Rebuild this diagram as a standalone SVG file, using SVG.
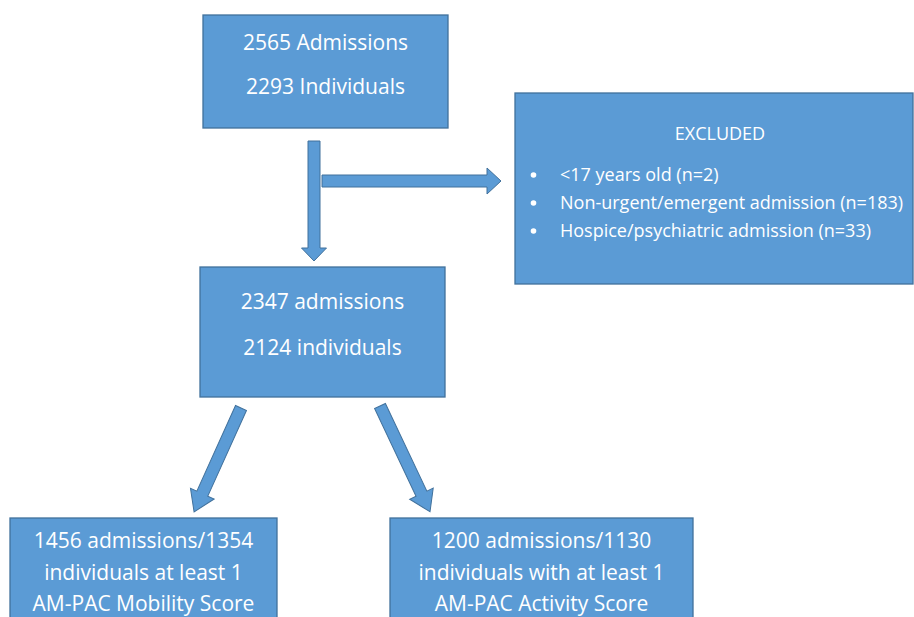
<svg xmlns="http://www.w3.org/2000/svg" width="914" height="617" viewBox="0 0 914 617">
<style>
.box{fill:#5B9BD5;stroke:#41719C;stroke-width:1.3}
.arr{fill:#5B9BD5;stroke:#41719C;stroke-width:1}
text{font-family:"Open Sans","Noto Sans",sans-serif;fill:#FFFFFF}
.t{font-size:21px;text-anchor:middle}
.s{font-size:18px}
.bul{fill:#FFFFFF}
</style>
<rect width="914" height="617" fill="#FFFFFF"/>
<g id="connectors">
<polygon class="arr" transform="translate(314,141) rotate(90)" points="0,-6 107,-6 107,-12.5 120,0 107,12.5 107,6 0,6"/>
<polygon class="arr" transform="translate(322,181)" points="0,-6 165,-6 165,-13 179,0 165,13 165,6 0,6"/>
<polygon class="arr" transform="translate(241,408) rotate(114.3)" points="0,-6 94,-6 94,-13 114,0 94,13 94,6 0,6"/>
<polygon class="arr" transform="translate(380,406) rotate(64.7)" points="0,-6 97,-6 97,-13 117,0 97,13 97,6 0,6"/>
</g>
<g id="n1">
<rect class="box" x="203" y="15" width="245" height="113"/>
<text class="t" x="325.5" y="50">2565 Admissions</text>
<text class="t" x="325.5" y="94">2293 Individuals</text>
</g>
<g id="excluded">
<rect class="box" x="515" y="93" width="398" height="191"/>
<text class="s" x="720" y="140" text-anchor="middle">EXCLUDED</text>
<circle class="bul" cx="533.5" cy="175" r="2.8"/>
<circle class="bul" cx="533.5" cy="203" r="2.8"/>
<circle class="bul" cx="533.5" cy="231" r="2.8"/>
<text class="s" x="560" y="181">&lt;17 years old (n=2)</text>
<text class="s" x="560" y="209">Non-urgent/emergent admission (n=183)</text>
<text class="s" x="560" y="237">Hospice/psychiatric admission (n=33)</text>
</g>
<g id="n2">
<rect class="box" x="200" y="267" width="245" height="130"/>
<text class="t" x="322.5" y="309">2347 admissions</text>
<text class="t" x="322.5" y="355">2124 individuals</text>
</g>
<g id="n3">
<rect class="box" x="10" y="518" width="267" height="120"/>
<text class="t" x="143.5" y="548">1456 admissions/1354</text>
<text class="t" x="143.5" y="580">individuals at least 1</text>
<text class="t" x="143.5" y="611">AM-PAC Mobility Score</text>
</g>
<g id="n4">
<rect class="box" x="390" y="518" width="303" height="120"/>
<text class="t" x="541.5" y="548">1200 admissions/1130</text>
<text class="t" x="541.5" y="580">individuals with at least 1</text>
<text class="t" x="541.5" y="611">AM-PAC Activity Score</text>
</g>
</svg>
